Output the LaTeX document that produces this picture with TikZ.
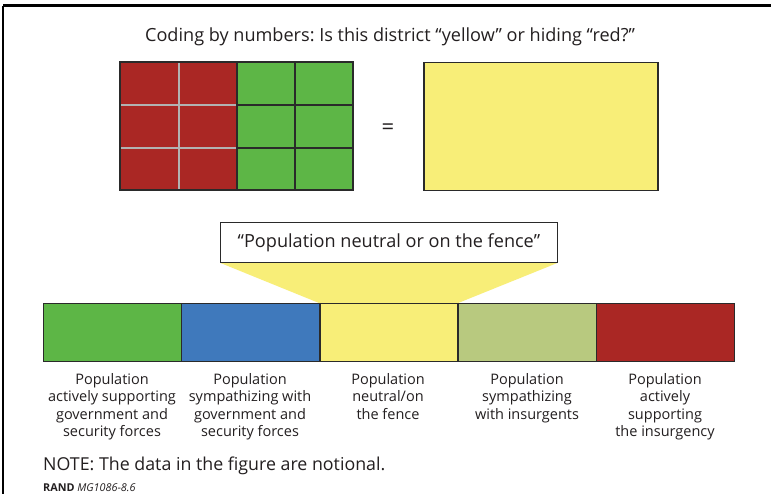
\documentclass[tikz,border=0pt]{standalone}
\usepackage{fontspec}
\setmainfont{Open Sans}
\frenchspacing
\definecolor{cred}{HTML}{AA2724}
\definecolor{cgreen}{HTML}{5DB646}
\definecolor{cblue}{HTML}{3F79BC}
\definecolor{cyellow}{HTML}{F8EE78}
\definecolor{colive}{HTML}{B8C97F}
\definecolor{ctext}{HTML}{231F20}
\definecolor{cedge}{HTML}{2A2A2A}
\begin{document}
\begin{tikzpicture}[x=1pt,y=-1pt,
  seg/.style={draw=cedge,line width=1.2pt,minimum width=138pt,minimum height=58pt,inner sep=0pt,anchor=north west},
  lab/.style={anchor=north,align=center,text=ctext,font=\fontsize{14.5}{17.4}\selectfont,inner sep=0pt},
  cell/.style={draw=cedge,line width=1.2pt}]
\useasboundingbox (0,0) rectangle (771,494);
\fill[white] (0,0) rectangle (771,494);
% frame
\draw[line width=3pt] (3,6) -- (771,6);
\draw[line width=1.8pt] (3,6) -- (3,494);
% title
\node[text=ctext,font=\fontsize{18.1}{22}\selectfont] (title) at (390,37) {Coding by numbers: Is this district “yellow” or hiding “red?”};
% grid
\fill[cred] (120,62) rectangle (237,190);
\fill[cgreen] (237,62) rectangle (353,190);
\draw[gray!60,line width=1.2pt] (179,62) -- (179,190);
\draw[gray!60,line width=1.2pt] (120,105) -- (237,105);
\draw[gray!60,line width=1.2pt] (120,148) -- (237,148);
\draw[cedge,line width=1.2pt] (295,62) -- (295,190);
\draw[cedge,line width=1.2pt] (237,105) -- (353,105);
\draw[cedge,line width=1.2pt] (237,148) -- (353,148);
\draw[cedge,line width=1.5pt] (237,62) -- (237,190);
\draw[cedge,line width=1.5pt] (120,62) rectangle (353,190);
\node[text=ctext,font=\fontsize{22}{22}\selectfont] (eq) at (388,129) {=};
\node[draw=cedge,line width=1.5pt,fill=cyellow,minimum width=234pt,minimum height=128pt,anchor=north west,inner sep=0pt] (ybox) at (423,62) {};
% bar
\node[seg,fill=cgreen] (s1) at (43,303) {};
\node[seg,fill=cblue] (s2) at (181,303) {};
\node[seg,fill=cyellow] (s3) at (319,303) {};
\node[seg,fill=colive] (s4) at (458,303) {};
\node[seg,fill=cred] (s5) at (596,303) {};
% callout
\node[draw=cedge,line width=0.8pt,fill=white,minimum width=337pt,minimum height=40pt,anchor=north west,inner sep=0pt,text=ctext,font=\fontsize{18.1}{20}\selectfont] (call) at (220,222) {“Population neutral or on the fence”};
\fill[cyellow] (call.south west) -- (call.south east) -- (s3.north east) -- (s3.north west) -- cycle;
\draw[cedge,line width=0.8pt] (call.south west) -- (call.south east);
\draw[cedge,line width=1.2pt] (s2.north east) -- (s2.south east);
\draw[cedge,line width=1.2pt] (s3.north east) -- (s3.south east);
% labels
\node[lab] (l1) at (112,373) {Population\\actively supporting\\government and\\security forces};
\node[lab] (l2) at (250,373) {Population\\sympathizing with\\government and\\security forces};
\node[lab] (l3) at (388,373) {Population\\neutral/on\\the fence};
\node[lab] (l4) at (527,373) {Population\\sympathizing\\with insurgents};
\node[lab] (l5) at (665,373) {Population\\actively\\supporting\\the insurgency};
% note
\node[anchor=west,text=ctext,font=\fontsize{17.8}{20}\selectfont,inner sep=0pt] (note) at (43,466) {NOTE: The data in the figure are notional.};
\node[anchor=west,text=ctext,font=\fontsize{10.8}{12}\selectfont,inner sep=0pt] (rand) at (43,488) {\textbf{RAND} \textit{MG1086-8.6}};
\end{tikzpicture}
\end{document}
